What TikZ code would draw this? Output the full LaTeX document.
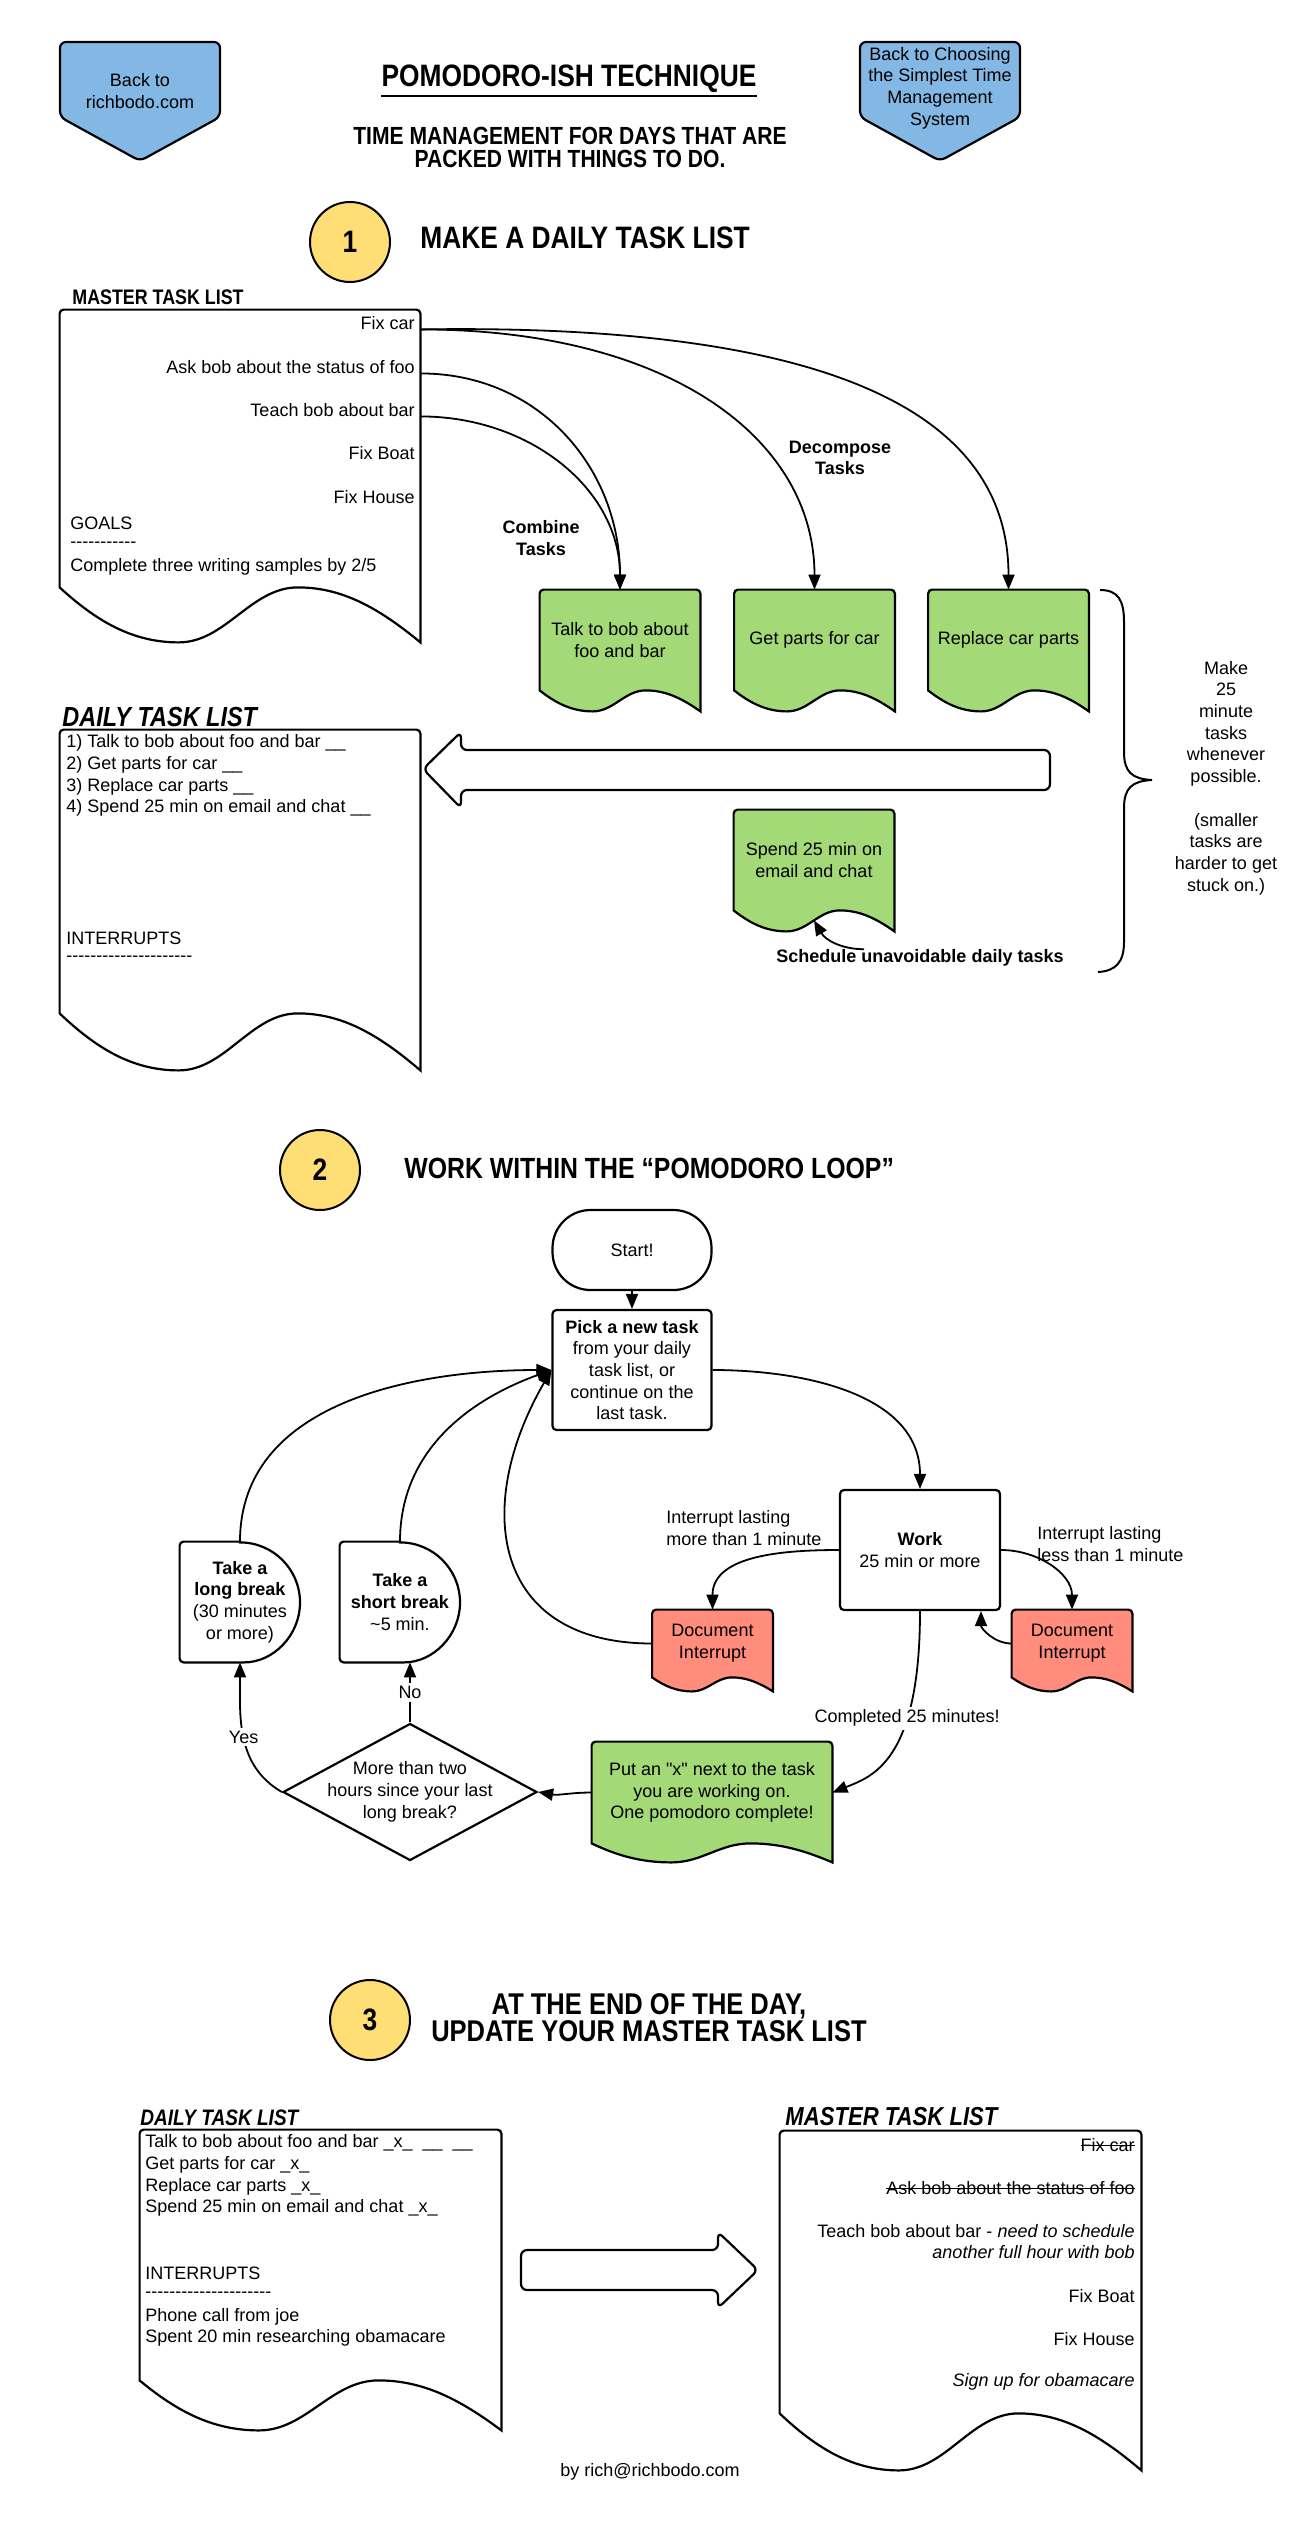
\documentclass[tikz,border=0pt]{standalone}
\usepackage{fontspec}
\setmainfont{Liberation Sans}
\newfontfamily\headfont{Liberation Sans}[FakeStretch=0.85]
\newfontfamily\straightfont{Liberation Sans}
\usetikzlibrary{positioning}
\usetikzlibrary{calc}
\usetikzlibrary{arrows.meta}
\usetikzlibrary{shapes.geometric}
\usetikzlibrary{backgrounds}

\definecolor{padblue}{RGB}{132,184,228}
\definecolor{padyellow}{RGB}{255,222,117}
\definecolor{padgreen}{RGB}{163,217,119}
\definecolor{padred}{RGB}{255,140,125}

\ExplSyntaxOn
\cs_new:Npn \dashrow #1 { \prg_replicate:nn {#1} { -{} } }
\ExplSyntaxOff

% struck-out text, straight quote
\newlength{\strikelen}
\newcommand{\strike}[1]{\settowidth{\strikelen}{#1}\rlap{\rule[0.3em]{\strikelen}{0.5pt}}#1}
\newcommand{\sq}{{\straightfont"}}

% document shape with a wavy bottom below the node
\newcommand{\docshape}[3]{%
  \begin{scope}[on background layer]
    \draw[shapeline, fill=#2] (#1.south west) [rounded corners=2pt] -- (#1.north west) -- (#1.north east) -- (#1.east) [sharp corners] -- ($(#1.south east)+(0pt,-#3)$)
      .. controls ($(#1.south west)!0.88!(#1.south east)+(0pt,-0.35*#3)$) and ($(#1.south west)!0.78!(#1.south east)$) .. ($(#1.south west)!0.66!(#1.south east)$)
      .. controls ($(#1.south west)!0.53!(#1.south east)$) and ($(#1.south west)!0.46!(#1.south east)+(0pt,-#3)$) .. ($(#1.south west)!0.33!(#1.south east)+(0pt,-#3)$)
      .. controls ($(#1.south west)!0.2!(#1.south east)+(0pt,-#3)$) and ($(#1.south west)!0.1!(#1.south east)+(0pt,-0.6*#3)$) .. (#1.south west) -- cycle;
  \end{scope}}
% delay shape (flat left, round right)
\newcommand{\delayshape}[1]{%
  \begin{scope}[on background layer]
    \draw[shapeline, fill=white] (#1.north) [rounded corners=2pt] -- (#1.north west) -- (#1.south west) -- (#1.south) [sharp corners] arc[start angle=-90, end angle=90, radius=30pt] -- cycle;
  \end{scope}}
% off-page connector round a text node
\newcommand{\offpage}[4]{%
  \begin{scope}[on background layer]
    \draw[shapeline, fill=padblue, rounded corners=3pt] ($(#1.center)+(-40pt,#2)$) -- ($(#1.center)+(40pt,#2)$) -- ($(#1.center)+(40pt,#3)$)
      -- ($(#1.center)+(0pt,#4)$) -- ($(#1.center)+(-40pt,#3)$) -- cycle;
  \end{scope}}

\begin{document}
\begin{tikzpicture}[
        x = 0.5pt, y = -0.5pt,
        every node/.style = {font = \fontsize{9}{10.85}\selectfont},
        txt/.style = {inner sep = 0pt},
        shapeline/.style = {line width = 1.1pt},
        box/.style = {draw, line width = 1.1pt, rounded corners = 2pt, align = center, inner sep = 0pt},
        docbox/.style = {inner sep = 0pt, align = center},
        delaybox/.style = {inner sep = 0pt, align = center, minimum width = 60pt, minimum height = 60pt},
        numcircle/.style = {circle, draw, line width = 1pt, fill = padyellow, minimum size = 40pt, inner sep = 0pt,
            font = \headfont\bfseries\fontsize{15.5}{15.5}\selectfont},
        heading/.style = {inner sep = 0pt, font = \headfont\bfseries\fontsize{#1}{#1}\selectfont},
        headingit/.style = {inner sep = 0pt, font = \headfont\bfseries\itshape\fontsize{#1}{#1}\selectfont},
        bold/.style = {inner sep = 0pt, align = center, font = \bfseries\fontsize{9}{10.85}\selectfont},
        arr/.style = {-{Triangle[length = 7.5pt, width = 6pt]}, line width = 0.9pt},
        lbl/.style = {fill = white, inner sep = 1.5pt},
        blockarrow/.style = {line width = 1.1pt, rounded corners = 3pt, fill = white}
        ]
\useasboundingbox (0,0) rectangle (1300,2542);
%
% header
        \node[txt, align=center] (backhome) at (140,91) {Back to\\richbodo.com};
        \offpage{backhome}{24.5pt}{-13pt}{-35pt}
        \node[txt, align=center] (backchoose) at (940,88) {Back to Choosing\\the Simplest Time\\Management\\System};
        \offpage{backchoose}{23pt}{-14.5pt}{-36.5pt}
        \node[heading=15.5] (title) at (569,79) {POMODORO-ISH TECHNIQUE};
        \draw[line width=1pt] ([yshift=-1.5pt]title.south west) -- ([yshift=-1.5pt]title.south east);
        \node[txt, align=center, font=\headfont\bfseries\fontsize{12.4}{11.5}\selectfont] (subtitle) at (570,147)
            {TIME MANAGEMENT FOR DAYS THAT ARE\\PACKED WITH THINGS TO DO.};
%
% step 1
        \node[numcircle] (one) at (350,242) {1};
        \node[heading=15.5, anchor=west] (step1) at (420,238) {MAKE A DAILY TASK LIST};
%
        \node[heading=10.5, anchor=west] (mastertitle) at (72,297) {MASTER TASK LIST};
        \node[docbox, minimum width=180pt, minimum height=138.5pt] (mlist) at (240,448.5) {};
        \docshape{mlist}{white}{27.5pt}
        \node[txt, anchor=east] (fixcar) at (415,323) {Fix car};
        \node[txt, anchor=east] (askbob) at (415,367) {Ask bob about the status of foo};
        \node[txt, anchor=east] (teachbob) at (415,410) {Teach bob about bar};
        \node[txt, anchor=east] (fixboat) at (415,453) {Fix Boat};
        \node[txt, anchor=east] (fixhouse) at (415,497) {Fix House};
        \node[txt, anchor=west] (goals) at (70,523) {GOALS};
        \node[txt, anchor=west] (goaldash) at (70,545) {\dashrow{11}};
        \node[txt, anchor=west] (goal1) at (70,567) {Complete three writing samples by 2/5};
%
        \node[bold] (combine) at (541,538) {Combine\\Tasks};
        \node[bold] (decompose) at (840,458) {Decompose\\Tasks};
%
        \node[docbox, minimum width=80pt, minimum height=50pt] (talk) at (620,640) {Talk to bob about\\foo and bar};
        \docshape{talk}{padgreen}{10.5pt}
        \node[docbox, minimum width=80pt, minimum height=50pt] (parts) at (814.5,640) {Get parts for car};
        \docshape{parts}{padgreen}{10.5pt}
        \node[docbox, minimum width=80pt, minimum height=50pt] (replace) at (1008.5,640) {Replace car parts};
        \docshape{replace}{padgreen}{10.5pt}
%
        \draw[arr] (fixcar.base -| mlist.east) .. controls +(380,-6) and +(0,-190) .. (replace.north);
        \draw[arr] (fixcar.base -| mlist.east) .. controls +(250,0) and +(0,-150) .. (parts.north);
        \draw[arr] (askbob.base -| mlist.east) .. controls +(120,0) and +(0,-120) .. (talk.north);
        \draw[arr] (teachbob.base -| mlist.east) .. controls +(110,0) and +(0,-100) .. (talk.north);
%
        \draw[line width=1pt] (1100,590) .. controls (1118,590) and (1124,600) .. (1124,622) -- (1124,752)
            .. controls (1124,772) and (1132,779) .. (1152,780) .. controls (1132,781) and (1124,788) .. (1124,808)
            -- (1124,942) .. controls (1124,962) and (1116,971) .. (1098,972);
        \node[txt, align=center] (bracenote) at (1226,778) {Make\\25\\minute\\tasks\\whenever\\possible.\\[10.85pt](smaller\\tasks are\\harder to get\\stuck on.)};
%
        \node[headingit=13.8, anchor=west] (dailytitle) at (62,717) {DAILY TASK LIST};
        \node[docbox, minimum width=180pt, minimum height=141.5pt] (dlist) at (240,871.5) {};
        \docshape{dlist}{white}{28.5pt}
        \node[txt, anchor=west] (d1) at (66,743) {1) Talk to bob about foo and bar \_\_};
        \node[txt, anchor=west] (d2) at (66,765) {2) Get parts for car \_\_};
        \node[txt, anchor=west] (d3) at (66,787) {3) Replace car parts \_\_};
        \node[txt, anchor=west] (d4) at (66,808) {4) Spend 25 min on email and chat \_\_};
        \node[txt, anchor=west] (dint) at (66,938) {INTERRUPTS};
        \node[txt, anchor=west] (dintdash) at (66,959) {\dashrow{21}};
%
        \draw[blockarrow] (1050,750) -- (461,750) -- (461,732) -- (423,769) -- (461,808) -- (461,790) -- (1050,790) -- cycle;
%
        \node[docbox, minimum width=80pt, minimum height=50pt] (spend) at (814,860) {Spend 25 min on\\email and chat};
        \docshape{spend}{padgreen}{10.5pt}
        \node[bold] (sched) at (920,958) {Schedule unavoidable daily tasks};
        \coordinate (spendbot) at ($(spend.south west)!0.5!(spend.south east)+(0pt,-5pt)$);
        \draw[arr] ([xshift=-28pt]sched.north) to[out=180, in=-60] (spendbot);
%
% step 2
        \node[numcircle] (two) at (320,1170) {2};
        \node[heading=14.6, anchor=west] (step2) at (404,1168) {WORK WITHIN THE “POMODORO LOOP”};
%
        \node[box, rounded corners=19pt, minimum width=79.5pt, minimum height=40pt] (start) at (632,1250) {Start!};
        \node[box, minimum width=79.5pt, minimum height=60pt] (pick) at (632,1370)
            {\textbf{Pick a new task}\\from your daily\\task list, or\\continue on the\\last task.};
        \node[box, minimum width=80pt, minimum height=60pt] (work) at (920,1550) {\textbf{Work}\\25 min or more};
%
        \node[docbox, minimum width=60pt, minimum height=33.5pt] (leftdoc) at (712.5,1643.5) {Document\\Interrupt};
        \docshape{leftdoc}{padred}{7pt}
        \node[docbox, minimum width=60pt, minimum height=33.5pt] (rightdoc) at (1072,1643.5) {Document\\Interrupt};
        \docshape{rightdoc}{padred}{7pt}
        \node[txt, anchor=west, align=left] (moreint) at (666,1528) {Interrupt lasting\\more than 1 minute};
        \node[txt, anchor=west, align=left] (lessint) at (1037,1544) {Interrupt lasting\\less than 1 minute};
%
        \node[delaybox] (longbrk) at (240,1602) {\textbf{Take a}\\\textbf{long break}\\(30 minutes\\or more)};
        \delayshape{longbrk}
        \node[delaybox] (shortbrk) at (400,1602) {\textbf{Take a}\\\textbf{short break}\\\textasciitilde5 min.};
        \delayshape{shortbrk}
%
        \node[diamond, draw, line width=1.1pt, inner sep=0pt, minimum width=127pt, minimum height=68.5pt] (decide) at (410,1792) {};
        \node[txt, align=center] (decidetxt) at (decide.center) {More than two\\hours since your last\\long break?};
%
        \node[docbox, minimum width=120pt, minimum height=50.5pt] (put) at (712,1792.5)
            {Put an \sq x\sq{} next to the task\\you are working on.\\One pomodoro complete!};
        \docshape{put}{padgreen}{9.5pt}
%
        \draw[arr] (start) -- (pick);
        \draw[arr] (pick.east) to[out=0, in=90] (work.north);
        \draw[arr] (work.west) to[out=180, in=90] (leftdoc.north);
        \draw[arr] (work.east) to[out=0, in=90] (rightdoc.north);
        \draw[arr] (rightdoc.west) to[out=180, in=270] ([xshift=30.5pt]work.south);
        \draw[arr] (leftdoc.west) to[out=180, in=240, looseness=1.4] (pick.west);
        \draw[arr] (longbrk.north) to[out=90, in=180] (pick.west);
        \draw[arr] (shortbrk.north) to[out=90, in=200] (pick.west);
        \draw[arr] (work.south) .. controls +(0,150) and +(40,-16) .. node[pos=0.32, lbl] (donelbl) {Completed 25 minutes!} (put.east);
        \draw[arr] (put.west) to[out=180, in=-10] (decide.east);
        \draw[arr] (decide.west) to[out=150, in=270] node[pos=0.5, lbl] (yeslbl) {Yes} (longbrk.south);
        \draw[arr] (decide.north) -- node[pos=0.5, lbl] (nolbl) {No} (decide.north |- shortbrk.south);
%
% step 3
        \node[numcircle] (three) at (370,2020) {3};
        \node[txt, align=center, font=\headfont\bfseries\fontsize{15}{13.5}\selectfont] (step3) at (649,2018)
            {AT THE END OF THE DAY,\\UPDATE YOUR MASTER TASK LIST};
%
        \node[headingit=11.2, anchor=west] (dailytitle3) at (140,2118) {DAILY TASK LIST};
        \node[docbox, minimum width=180.5pt, minimum height=125pt] (dlist3) at (320.5,2255) {};
        \docshape{dlist3}{white}{25pt}
        \node[txt, anchor=west] (e1) at (145,2143) {Talk to bob about foo and bar \_x\_\ \ \_\_\ \ \_\_};
        \node[txt, anchor=west] (e2) at (145,2165) {Get parts for car \_x\_};
        \node[txt, anchor=west] (e3) at (145,2187) {Replace car parts \_x\_};
        \node[txt, anchor=west] (e4) at (145,2208) {Spend 25 min on email and chat \_x\_};
        \node[txt, anchor=west] (eint) at (145,2273) {INTERRUPTS};
        \node[txt, anchor=west] (eintdash) at (145,2295) {\dashrow{21}};
        \node[txt, anchor=west] (eint1) at (145,2317) {Phone call from joe};
        \node[txt, anchor=west] (eint2) at (145,2338) {Spent 20 min researching obamacare};
%
        \draw[blockarrow] (521,2250) -- (718,2250) -- (718,2232) -- (758,2270) -- (718,2308) -- (718,2290) -- (521,2290) -- cycle;
%
        \node[headingit=13, anchor=west] (mastertitle3) at (785,2117) {MASTER TASK LIST};
        \node[docbox, minimum width=180.5pt, minimum height=141pt] (mlist3) at (960.5,2272) {};
        \docshape{mlist3}{white}{28.5pt}
        \node[txt, anchor=east] (m1) at (1135,2145) {\strike{Fix car}};
        \node[txt, anchor=east] (m2) at (1135,2188) {\strike{Ask bob about the status of foo}};
        \node[txt, anchor=east] (m3a) at (1135,2231) {Teach bob about bar - \textit{need to schedule}};
        \node[txt, anchor=east] (m3b) at (1135,2252) {\textit{another full hour with bob}};
        \node[txt, anchor=east] (m4) at (1135,2296) {Fix Boat};
        \node[txt, anchor=east] (m5) at (1135,2339) {Fix House};
        \node[txt, anchor=east] (m6) at (1135,2382) {\textit{Sign up for obamacare}};
%
        \node (byline) at (650,2472) {by rich@richbodo.com};
\end{tikzpicture}
\end{document}
